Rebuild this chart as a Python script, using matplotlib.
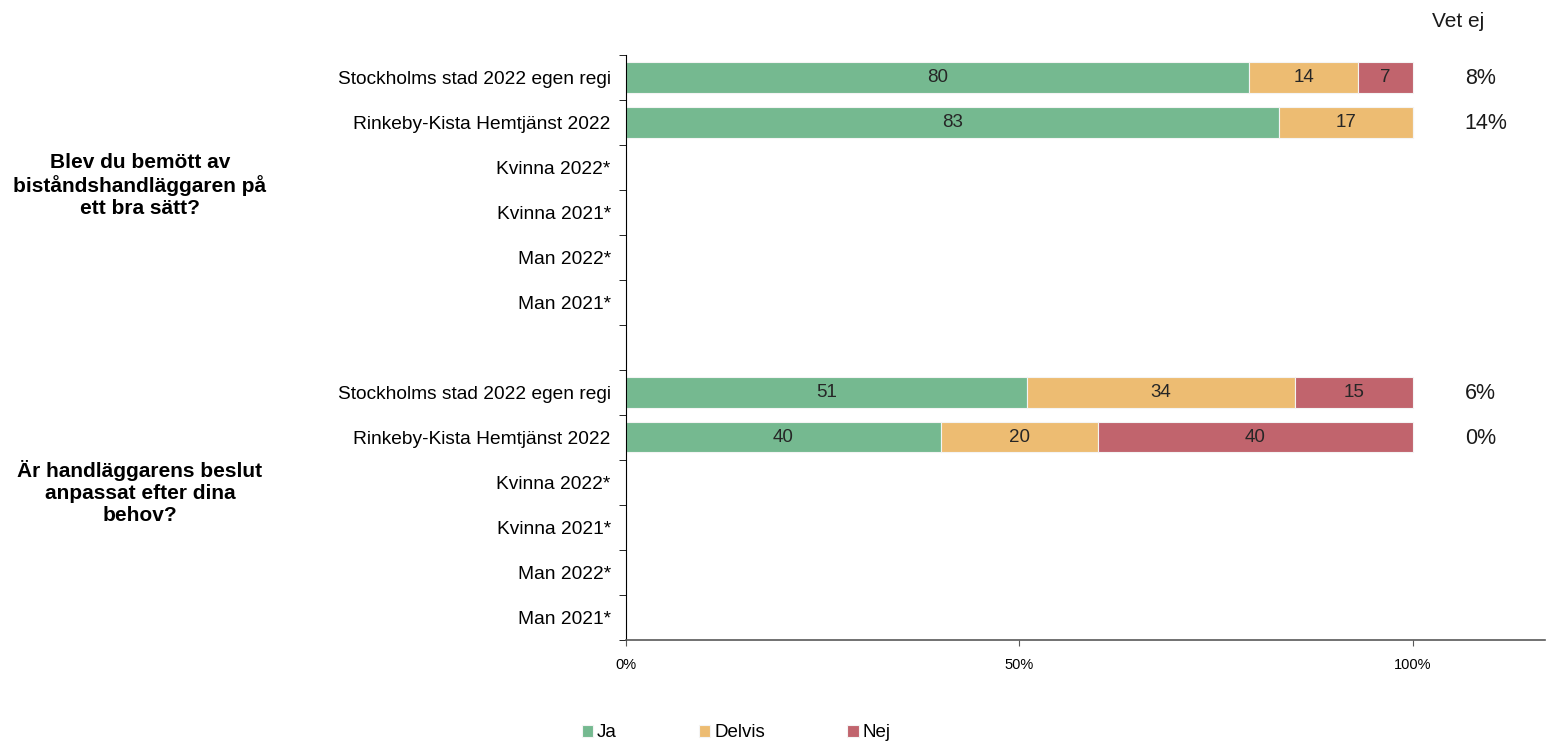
import matplotlib.pyplot as plt
import numpy as np

plt.rcParams['font.family'] = ['Liberation Sans', 'DejaVu Sans']

rows = ['Stockholms stad 2022 egen regi', 'Rinkeby-Kista Hemtjänst 2022',
        'Kvinna 2022*', 'Kvinna 2021*', 'Man 2022*', 'Man 2021*', '',
        'Stockholms stad 2022 egen regi', 'Rinkeby-Kista Hemtjänst 2022',
        'Kvinna 2022*', 'Kvinna 2021*', 'Man 2022*', 'Man 2021*']
ja = [80, 83, None, None, None, None, None, 51, 40, None, None, None, None]
delvis = [14, 17, None, None, None, None, None, 34, 20, None, None, None, None]
nej = [7, 0, None, None, None, None, None, 15, 40, None, None, None, None]
vet_ej = ['8%', '14%', '', '', '', '', '', '6%', '0%', '', '', '', '']
questions = ['Blev du bemött av\nbiståndshandläggaren på\nett bra sätt?',
             'Är handläggarens beslut\nanpassat efter dina\nbehov?']
series = ['Ja', 'Delvis', 'Nej']
colors = ['#75b990', '#edbc72', '#c1646d']

fig = plt.figure(figsize=(15.61, 7.44), dpi=100)
ax = fig.add_axes([0.401, 0.140, 0.5888, 0.786])

y = np.arange(len(rows))
vals = [np.array([np.nan if v is None else v for v in s], dtype=float) for s in (ja, delvis, nej)]
tot = np.nansum(vals, axis=0)
left = np.zeros(len(rows))
for s, name, c in zip(vals, series, colors):
    w = np.where(tot > 0, s / np.where(tot > 0, tot, 1), 0)
    ax.barh(y, w, left=left, height=0.67, color=c, edgecolor='#f4f4f4', linewidth=0.8, label=name)
    for i in range(len(rows)):
        if not np.isnan(s[i]) and s[i] > 0:
            ax.text(left[i] + w[i] / 2, y[i], f'{int(s[i])}', ha='center', va='center',
                    fontsize=13.5, color='#262626')
    left = left + w

for i, t in enumerate(vet_ej):
    if t:
        ax.text(1.066, y[i] + 0.03, t, ha='left', va='center', fontsize=15.5, color='#1a1a1a')
ax.text(1.058, -1.25, 'Vet ej', ha='center', va='center', fontsize=15, color='#1a1a1a')

ax.set_xlim(0, 1.168)
ax.set_ylim(len(rows) - 0.5, -0.5)
ax.set_xticks([0, 0.5, 1.0])
ax.set_xticklabels(['0%', '50%', '100%'], fontsize=10.5)
ax.set_yticks(y)
ax.set_yticklabels(rows, fontsize=13.8)
ax.tick_params(axis='y', length=0, pad=11)
ax.set_yticks(np.arange(len(rows) + 1) - 0.5, minor=True)
ax.tick_params(axis='y', which='minor', length=5)
ax.tick_params(axis='x', length=4, color='#595959', pad=9)
for sp in ['top', 'right']:
    ax.spines[sp].set_visible(False)
ax.spines['bottom'].set_color('#595959')
ax.spines['bottom'].set_linewidth(1.2)

for q, yc in zip(questions, [2.4, 9.22]):
    ax.annotate(q, xy=(0, yc), xycoords=('figure fraction', 'data'), xytext=(140, 0),
                textcoords='offset pixels', ha='center', va='center', fontsize=15,
                fontweight='bold', linespacing=1.2)

fig.legend(loc='lower center', bbox_to_anchor=(0.4715, -0.019), ncol=3, frameon=False,
           fontsize=13.5, handlelength=0.6, handleheight=0.6, handletextpad=0.2, columnspacing=4.4)

fig.savefig('out.png', dpi=100)
